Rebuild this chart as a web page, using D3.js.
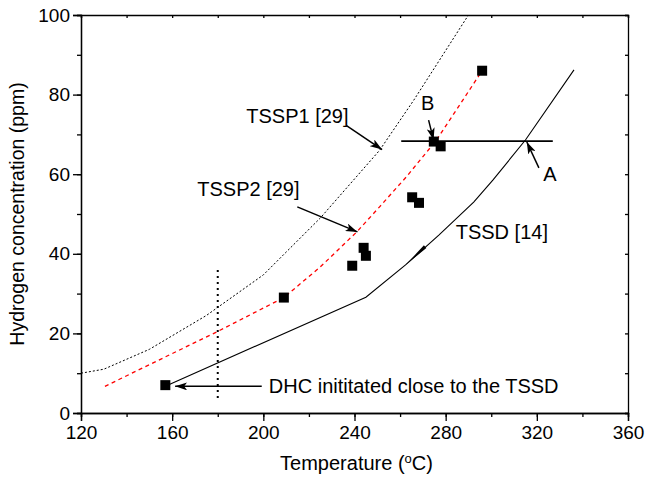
<!DOCTYPE html>
<head>
  <title>Hydrogen concentration vs temperature</title>
  <meta charset="utf-8">
  <script src="https://d3js.org/d3.v7.min.js"></script>
  <style>
    body { margin: 0; background: #fff; }
    text { font-family: "Liberation Sans", Arial, Helvetica, sans-serif; fill: #000; }
    .tick text { font-size: 19px; }
    .axis path, .axis line { stroke: #000; stroke-width: 1.3; }
    .ann { font-size: 20px; }
  </style>
</head>
<body>
<div class="container"></div>
<script>
'use strict';
var width = 646, height = 484;
var margin = { top: 15, right: 18, bottom: 71, left: 81 };
var w = width - margin.left - margin.right;
var h = height - margin.top - margin.bottom;

// axis ticks
var tempTicks = [120, 160, 200, 240, 280, 320, 360];
var concTicks = [0, 20, 40, 60, 80, 100];

// TSSP1 [29] (black dotted)
var tssp1Temp = [120, 130, 150, 175, 200, 225, 251, 266, 290];
var tssp1Conc = [10, 11, 16, 24.5, 34.7, 49, 66, 78.6, 100];

// TSSP2 [29] (red dashed)
var tssp2Temp = [130.5, 180, 209, 225, 241, 251, 263, 276, 296];
var tssp2Conc = [6.7, 20.5, 29, 36.7, 45.5, 51.8, 59.5, 68.6, 86];

// TSSD [14] (black solid)
var tssdTemp = [158, 245, 262.4, 277, 292.3, 300.7, 315, 336.3];
var tssdConc = [7, 29.1, 37.2, 44.7, 53, 58.5, 68.6, 86.2];

// DHC initiation points
var dhcTemp = [157, 209, 239, 244, 245, 265.3, 268.3, 274.8, 277.8, 296];
var dhcConc = [7, 29, 37, 41.5, 39.5, 54.2, 52.8, 68.2, 67, 86];

var svg = d3.select('.container').append('svg')
  .attr('width', width).attr('height', height);

var defs = svg.append('defs');
defs.append('marker')
  .attr('id', 'arrow')
  .attr('viewBox', '0 0 12 8')
  .attr('refX', 12).attr('refY', 4)
  .attr('markerWidth', 12).attr('markerHeight', 8)
  .attr('markerUnits', 'userSpaceOnUse')
  .attr('orient', 'auto')
  .append('path').attr('d', 'M0,0 L12,4 L0,8 L3,4 Z').attr('fill', '#000');

var g = svg.append('g')
  .attr('transform', 'translate(' + margin.left + ',' + margin.top + ')');

var x = d3.scaleLinear().domain([120, 360]).range([0, w]);
var y = d3.scaleLinear().domain([0, 100]).range([h, 0]);

// minor ticks
var xMinor = d3.range(120, 361, 20);
var yMinor = d3.range(0, 101, 10);

g.append('g').attr('class', 'axis')
  .attr('transform', 'translate(0,' + h + ')')
  .call(d3.axisBottom(x).tickValues(xMinor).tickSize(4).tickFormat(''));
g.append('g').attr('class', 'axis')
  .attr('transform', 'translate(0,' + h + ')')
  .call(d3.axisBottom(x).tickValues(tempTicks).tickSize(8).tickPadding(5).tickFormat(d3.format('d')));
g.append('g').attr('class', 'axis')
  .call(d3.axisLeft(y).tickValues(yMinor).tickSize(4).tickFormat(''));
g.append('g').attr('class', 'axis')
  .call(d3.axisLeft(y).tickValues(concTicks).tickSize(8).tickPadding(3).tickFormat(d3.format('d')));
g.append('g').attr('class', 'axis')
  .call(d3.axisTop(x).tickValues(xMinor).tickSize(-3).tickFormat(''));
g.append('g').attr('class', 'axis')
  .attr('transform', 'translate(' + w + ',0)')
  .call(d3.axisRight(y).tickValues(yMinor).tickSize(-3).tickFormat(''));

g.selectAll('.axis .domain').attr('stroke-width', 1.5);

// axis titles
var xt = svg.append('text')
  .attr('x', margin.left + w / 2 + 2).attr('y', 470)
  .attr('text-anchor', 'middle').style('font-size', '20px')
  .text('Temperature (');
xt.append('tspan').attr('dy', -7).style('font-size', '13px').text('o');
xt.append('tspan').attr('dy', 7).text('C)');

svg.append('text')
  .attr('transform', 'translate(24,' + (margin.top + h / 2) + ') rotate(-90)')
  .attr('text-anchor', 'middle').style('font-size', '19.5px')
  .text('Hydrogen concentration (ppm)');

var line = d3.line().x(function (d) { return x(d[0]); }).y(function (d) { return y(d[1]); });
function pairs(a, b) { return a.map(function (v, i) { return [v, b[i]]; }); }

g.append('path').datum(pairs(tssp1Temp, tssp1Conc))
  .attr('d', line).attr('fill', 'none').attr('stroke', '#000')
  .attr('stroke-width', 1).attr('stroke-dasharray', '2,2');

g.append('path').datum(pairs(tssp2Temp, tssp2Conc))
  .attr('d', line).attr('fill', 'none').attr('stroke', '#f00')
  .attr('stroke-width', 1.3).attr('stroke-dasharray', '4,3.5');

g.append('path').datum(pairs(tssdTemp, tssdConc))
  .attr('d', line).attr('fill', 'none').attr('stroke', '#000')
  .attr('stroke-width', 1.1);

// vertical dotted line at 180 C
var vTemp = [180, 180], vConc = [3.8, 36.4];
g.append('path').datum(pairs(vTemp, vConc))
  .attr('d', line).attr('fill', 'none').attr('stroke', '#000')
  .attr('stroke-width', 2).attr('stroke-dasharray', '2,4');

// horizontal line at ~68 ppm
var hTemp = [260.5, 327], hConc = [68.3, 68.3];
g.append('path').datum(pairs(hTemp, hConc))
  .attr('d', line).attr('fill', 'none').attr('stroke', '#000')
  .attr('stroke-width', 1.6);

// squares
g.selectAll('rect.pt').data(pairs(dhcTemp, dhcConc)).enter()
  .append('rect').attr('class', 'pt')
  .attr('x', function (d) { return x(d[0]) - 5; })
  .attr('y', function (d) { return y(d[1]) - 5; })
  .attr('width', 10).attr('height', 10).attr('fill', '#000');

// annotations (data coordinates)
var labels = [
  { t: 192.5, c: 72.9, text: 'TSSP1 [29]', anchor: 'start' },
  { t: 171, c: 54.4, text: 'TSSP2 [29]', anchor: 'start' },
  { t: 272.1, c: 76.1, text: 'B', anchor: 'middle' },
  { t: 325.7, c: 58.3, text: 'A', anchor: 'middle' },
  { t: 284.4, c: 43.7, text: 'TSSD [14]', anchor: 'start' },
  { t: 202.4, c: 5.0, text: 'DHC inititated close to the TSSD', anchor: 'start' }
];
var arrows = [
  [236.5, 72.2, 252.1, 66.2],
  [214.9, 51.8, 241.3, 45.5],
  [272.5, 73.6, 274.7, 68.6],
  [320.9, 61.6, 315.6, 68.1],
  [199.3, 6.7, 161.3, 6.7]
];

g.selectAll('text.ann').data(labels).enter()
  .append('text').attr('class', 'ann')
  .attr('x', function (d) { return x(d.t); })
  .attr('y', function (d) { return y(d.c); })
  .attr('text-anchor', function (d) { return d.anchor; })
  .text(function (d) { return d.text; });

g.selectAll('line.arr').data(arrows).enter()
  .append('line').attr('class', 'arr')
  .attr('x1', function (d) { return x(d[0]); })
  .attr('y1', function (d) { return y(d[1]); })
  .attr('x2', function (d) { return x(d[2]); })
  .attr('y2', function (d) { return y(d[3]); })
  .attr('stroke', '#000').attr('stroke-width', 1.5)
  .attr('marker-end', 'url(#arrow)');

// thin arrowhead lying on the TSSD curve
var markFrom = [271, 41.8], markTo = [262.4, 37.2];
(function () {
  var x0 = x(markFrom[0]), y0 = y(markFrom[1]);
  var x1 = x(markTo[0]), y1 = y(markTo[1]);
  var dx = x1 - x0, dy = y1 - y0, len = Math.sqrt(dx * dx + dy * dy);
  var nx = -dy / len * 1.8, ny = dx / len * 1.8;
  g.append('path')
    .attr('d', 'M' + (x0 + nx) + ',' + (y0 + ny) + 'L' + x1 + ',' + y1 +
      'L' + (x0 - nx) + ',' + (y0 - ny) + 'Z')
    .attr('fill', '#000');
})();
</script>
</body>
